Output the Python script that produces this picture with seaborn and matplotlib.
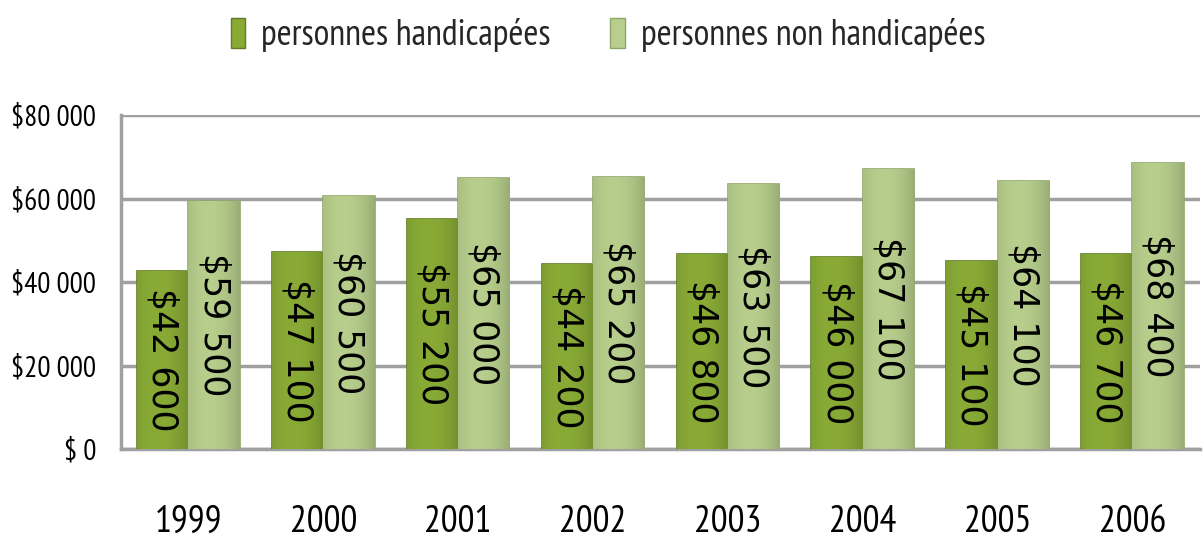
import numpy as np
import pandas as pd
import matplotlib
matplotlib.use("Agg")
import matplotlib.pyplot as plt
import seaborn as sns
from matplotlib.patches import Patch
from matplotlib.font_manager import FontProperties

years = ["1999", "2000", "2001", "2002", "2003", "2004", "2005", "2006"]
disabled = [42600, 47100, 55200, 44200, 46800, 46000, 45100, 46700]
non_disabled = [59500, 60500, 65000, 65200, 63500, 67100, 64100, 68400]
series_names = ["personnes handicapées", "personnes non handicapées"]
y_ticks = [0, 20000, 40000, 60000, 80000]

colors = ["#89ab36", "#b7ce8c"]
edge_colors = ["#5f7a22", "#8fa66a"]

df = pd.DataFrame({
    "annee": years * 2,
    "revenu": disabled + non_disabled,
    "groupe": [series_names[0]] * len(years) + [series_names[1]] * len(years),
})

sns.set_theme(style="white")
plt.rcParams["font.family"] = ["PT Sans Narrow", "DejaVu Sans"]
value_font = FontProperties(family="DejaVu Sans", size=25)

fig = plt.figure(figsize=(12.04, 5.41), dpi=100)
ax = fig.add_axes([0.1005, 0.170, 0.896, 0.6174])

sns.barplot(data=df, x="annee", y="revenu", hue="groupe", order=years,
            hue_order=series_names, palette=colors, width=0.76,
            saturation=1, ax=ax, legend=False, zorder=3)

# colour each series, add a soft cylinder-like shading, write the rotated values
for container, fc, ec in zip(ax.containers, colors, edge_colors):
    base = np.array(matplotlib.colors.to_rgb(fc))
    dark = base * 0.74
    grad = np.linspace(0, 1, 64)
    shade = 1 - 0.6 * (np.abs(grad - 0.4) * 1.7) ** 2
    img = np.tile(np.clip(shade, 0, 1), (2, 1))
    rgb = dark[None, None, :] + (base - dark)[None, None, :] * img[:, :, None]
    for bar in container:
        bar.set_facecolor(fc)
        bar.set_edgecolor(ec)
        bar.set_linewidth(1.2)
        x0, w, h = bar.get_x(), bar.get_width(), bar.get_height()
        im = ax.imshow(rgb, extent=[x0, x0 + w, 0, h], aspect="auto",
                       zorder=3.5, interpolation="bilinear")
        im.set_clip_path(bar)
        ax.text(x0 + w / 2, h / 2, "$" + f"{int(h):,}".replace(",", " "),
                rotation=270, ha="center", va="center",
                fontproperties=value_font, color="black", zorder=5)

ax.set_xlim(-0.5, 7.5)
ax.set_ylim(0, 80000)
ax.set_yticks(y_ticks)
ax.set_yticklabels(["$ 0"] + ["$" + f"{v:,}".replace(",", " ") for v in y_ticks[1:]])
ax.set_xlabel("")
ax.set_ylabel("")
ax.yaxis.grid(True, color="#a0a0a0", linewidth=2.5, zorder=0)
ax.set_axisbelow(True)
for side in ["top", "right"]:
    ax.spines[side].set_visible(False)
for side in ["left", "bottom"]:
    ax.spines[side].set_color("#a0a0a0")
    ax.spines[side].set_linewidth(2.5)
ax.tick_params(axis="y", length=0, pad=18, labelsize=21, colors="black")
ax.tick_params(axis="x", length=0, pad=40, labelsize=27, colors="black")

handles = [Patch(facecolor=c, edgecolor=e) for c, e in zip(colors, edge_colors)]
fig.legend(handles, series_names, loc="center", bbox_to_anchor=(0.505, 0.935),
           ncol=2, frameon=False, fontsize=26, handlelength=0.4,
           handleheight=0.9, handletextpad=0.45, columnspacing=1.65)

fig.savefig("out.png", dpi=100)
